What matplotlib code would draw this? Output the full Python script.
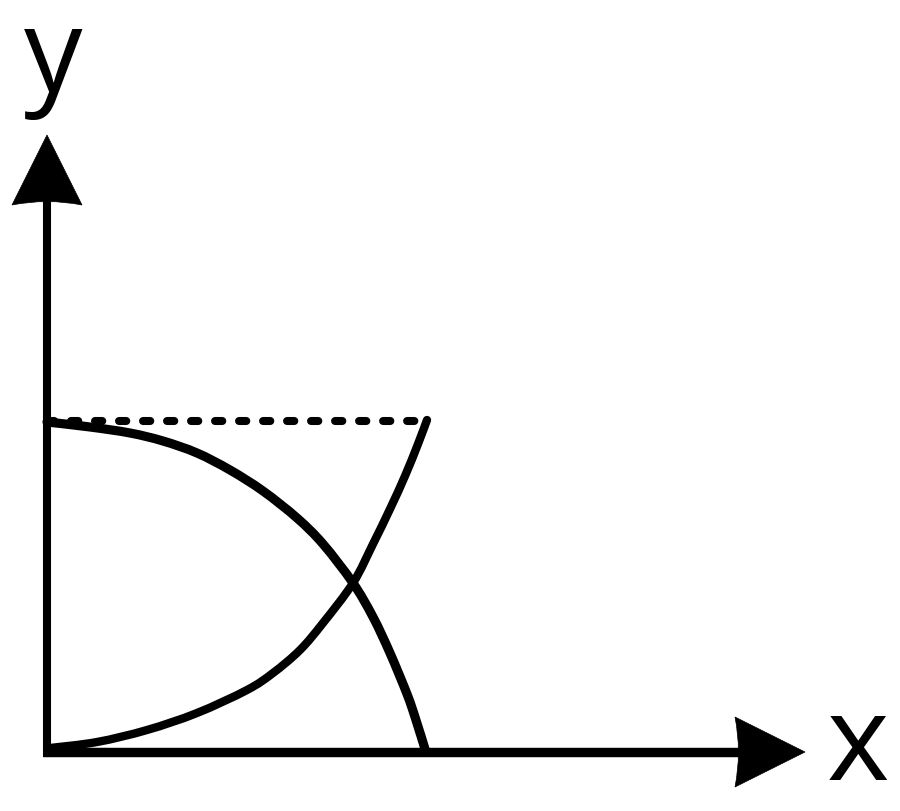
import matplotlib
matplotlib.use('Agg')
import matplotlib.pyplot as plt
from matplotlib import font_manager
from matplotlib.path import Path
from matplotlib.patches import PathPatch

# curve values (x right, y up, origin at the axes corner)
falling_x = [0, 43, 83, 116, 150, 183, 216, 250, 276, 306, 326, 343, 360, 368, 378]
falling_y = [330, 325, 319, 311, 299, 282, 261, 234, 208, 169, 135, 99, 58, 35, 3]

rising_x = [3, 50, 100, 150, 200, 226, 253, 276, 306, 326, 343, 358, 371, 380]
rising_y = [4, 10, 22, 39, 62, 79, 102, 129, 169, 208, 243, 276, 308, 332]

level_x = [0, 381]
level_y = [331, 331]

axis_labels = ['x', 'y']


def smooth_path(xs, ys):
    """Catmull-Rom style cubic path through the read points."""
    pts = list(zip(xs, ys))
    verts = [pts[0]]
    codes = [Path.MOVETO]
    for i in range(len(pts) - 1):
        p0 = pts[max(i - 1, 0)]
        p1 = pts[i]
        p2 = pts[i + 1]
        p3 = pts[min(i + 2, len(pts) - 1)]
        c1 = (p1[0] + (p2[0] - p0[0]) / 6, p1[1] + (p2[1] - p0[1]) / 6)
        c2 = (p2[0] - (p3[0] - p1[0]) / 6, p2[1] - (p3[1] - p1[1]) / 6)
        verts += [c1, c2, p2]
        codes += [Path.CURVE4] * 3
    return Path(verts, codes)


def arrow_head(ax, tip, direction, length=70, half_width=35, notch=7):
    """Filled arrow head with a slightly concave back."""
    tx, ty = tip
    dx, dy = direction
    px, py = -dy, dx
    bx, by = tx - dx * length, ty - dy * length
    verts = [
        (tx, ty),
        (bx + px * half_width, by + py * half_width),
        (bx + dx * notch, by + dy * notch),
        (bx - px * half_width, by - py * half_width),
        (tx, ty),
    ]
    codes = [Path.MOVETO, Path.LINETO, Path.CURVE3, Path.CURVE3, Path.CLOSEPOLY]
    ax.add_patch(PathPatch(Path(verts, codes), facecolor='black',
                           edgecolor='black', lw=0.5, zorder=4))


def pick_font(names):
    for name in names:
        try:
            font_manager.findfont(name, fallback_to_default=False)
            return name
        except ValueError:
            continue
    return 'DejaVu Sans'


fig = plt.figure(figsize=(9, 8.11), dpi=100)
ax = fig.add_axes([0, 0, 1, 1])
ax.set_xlim(-47, 853)
ax.set_ylim(-59, 752)
ax.axis('off')

# axes with arrows
ax.plot([0, 0], [-5, 560], color='black', lw=5.8, solid_capstyle='butt', zorder=3)
ax.plot([-4, 700], [0, 0], color='black', lw=6.8, solid_capstyle='butt', zorder=3)
arrow_head(ax, (0, 617), (0, 1))
arrow_head(ax, (758, 0), (1, 0))

# curves
ax.add_patch(PathPatch(smooth_path(falling_x, falling_y), fill=False,
                       edgecolor='black', lw=6.6, capstyle='round',
                       joinstyle='round', zorder=2))
ax.add_patch(PathPatch(smooth_path(rising_x, rising_y), fill=False,
                       edgecolor='black', lw=6.0, capstyle='round',
                       joinstyle='round', zorder=2))
ax.plot(level_x, level_y, color='black', lw=5.8, dashes=(0.9, 2.08),
        dash_capstyle='round', zorder=2)

font = pick_font(['Liberation Sans Narrow', 'Open Sans', 'Liberation Sans'])
ax.text(811, -28, axis_labels[0], fontsize=86, family=font,
        ha='center', va='baseline')
ax.text(6, 660, axis_labels[1], fontsize=84, family=font,
        ha='center', va='baseline')

fig.savefig('out.png', dpi=100, facecolor='white')
